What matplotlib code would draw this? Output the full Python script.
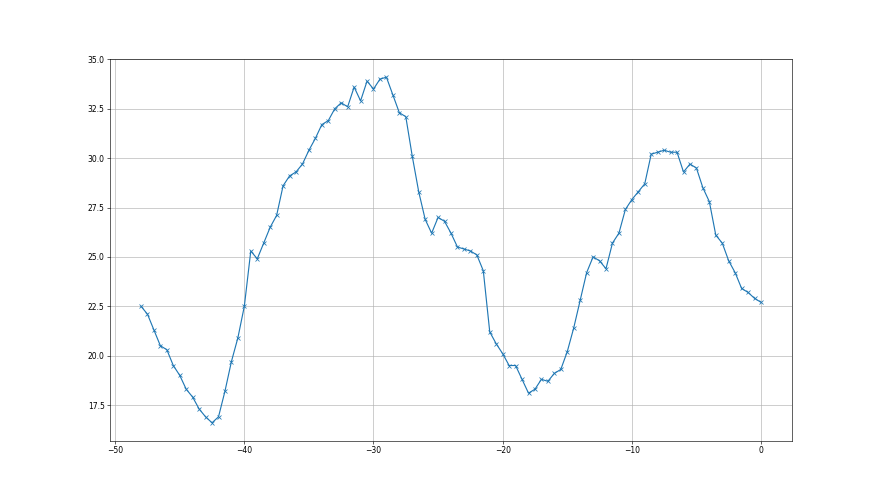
import numpy as np
import matplotlib
matplotlib.use("Agg")
import matplotlib.pyplot as plt

# Valores (x de -48 a 0 en pasos de 0.5)
x = np.arange(-48, 0.25, 0.5)
y = [22.5, 22.1, 21.3, 20.5, 20.3, 19.5, 19.0, 18.3, 17.9, 17.3,
     16.9, 16.6, 16.9, 18.2, 19.7, 20.9, 22.5, 25.3, 24.9, 25.7,
     26.5, 27.1, 28.6, 29.1, 29.3, 29.7, 30.4, 31.0, 31.7, 31.9,
     32.5, 32.8, 32.6, 33.6, 32.9, 33.9, 33.5, 34.0, 34.1, 33.2,
     32.3, 32.1, 30.1, 28.3, 26.9, 26.2, 27.0, 26.8, 26.2, 25.5,
     25.4, 25.3, 25.1, 24.3, 21.2, 20.6, 20.1, 19.5, 19.5, 18.8,
     18.1, 18.3, 18.8, 18.7, 19.1, 19.3, 20.2, 21.4, 22.8, 24.2,
     25.0, 24.8, 24.4, 25.7, 26.2, 27.4, 27.9, 28.3, 28.7, 30.2,
     30.3, 30.4, 30.3, 30.3, 29.3, 29.7, 29.5, 28.5, 27.8, 26.1,
     25.7, 24.8, 24.2, 23.4, 23.2, 22.9, 22.7]

fig, ax = plt.subplots(figsize=(16, 9), dpi=55)
ax.plot(x, y, marker='x')
ax.set_ylim(15.7, 35.0)
ax.grid(True)

plt.savefig('out.png')
